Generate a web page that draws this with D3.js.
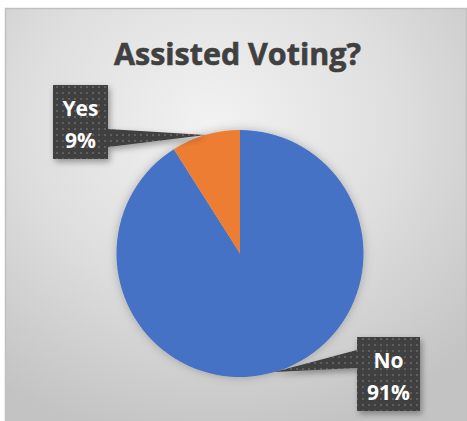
<!DOCTYPE html>
<html>
<head>
<meta charset="utf-8">
<script src="https://cdn.jsdelivr.net/npm/d3@7"></script>
<style>
  body { margin: 0; background: #fff; }
  svg { display: block; }
</style>
</head>
<body>
<div id="chart"></div>
<script>
// data
var categories = ["No", "Yes"];
var values = [91, 9];
var colors = ["#4472c4", "#ed7d31"];
var title = "Assisted Voting?";

var W = 467, H = 421;
var cx = 240, cy = 253.5, R = 123.5;

// label callout boxes (layout only)
var boxes = {
  "Yes": { x: 53, y: 85, w: 55, h: 74, side: "right", b0: 44, b1: 62 },
  "No":  { x: 357, y: 337, w: 63, h: 74, side: "left", b0: 13, b1: 31 }
};

var svg = d3.select("#chart").append("svg")
  .attr("width", W).attr("height", H);

var defs = svg.append("defs");

var bg = defs.append("radialGradient").attr("id", "bg")
  .attr("cx", "45%").attr("cy", "28%").attr("r", "78%");
bg.append("stop").attr("offset", "0%").attr("stop-color", "#f2f2f2");
bg.append("stop").attr("offset", "50%").attr("stop-color", "#dfdfdf");
bg.append("stop").attr("offset", "100%").attr("stop-color", "#c3c3c3");

var sh = defs.append("filter").attr("id", "shadow")
  .attr("x", "-20%").attr("y", "-20%").attr("width", "150%").attr("height", "150%");
sh.append("feDropShadow").attr("dx", 2).attr("dy", 3).attr("stdDeviation", 3)
  .attr("flood-color", "#000").attr("flood-opacity", 0.35);

var pieSh = defs.append("filter").attr("id", "pieshadow")
  .attr("x", "-20%").attr("y", "-20%").attr("width", "140%").attr("height", "140%");
pieSh.append("feDropShadow").attr("dx", 0).attr("dy", 0).attr("stdDeviation", 5)
  .attr("flood-color", "#000").attr("flood-opacity", 0.25);

var pat = defs.append("pattern").attr("id", "dots")
  .attr("width", 6).attr("height", 6).attr("patternUnits", "userSpaceOnUse");
pat.append("rect").attr("width", 6).attr("height", 6).attr("fill", "#404040");
pat.append("rect").attr("x", 2).attr("y", 2).attr("width", 2).attr("height", 2).attr("fill", "#5e5e5e");

// chart area
svg.append("rect").attr("x", 0).attr("y", 0).attr("width", W).attr("height", H).attr("fill", "#ffffff");
svg.append("rect")
  .attr("x", 5.5).attr("y", 8.5).attr("width", W - 6).attr("height", H - 8)
  .attr("fill", "url(#bg)").attr("stroke", "#c0c0c0").attr("stroke-width", 1.5);

// title
var t = svg.append("text")
  .attr("x", 237.5).attr("y", 65)
  .attr("text-anchor", "middle")
  .attr("font-family", "'Open Sans', sans-serif")
  .attr("font-weight", "bold")
  .attr("font-size", 30)
  .attr("fill", "#404040")
  .attr("stroke", "#404040")
  .attr("stroke-width", 0.6)
  .text(title);
var tw = t.node().getComputedTextLength();
t.attr("font-size", 30 * 247 / tw);

// pie
var pie = d3.pie().sort(null).value(function (d) { return d.value; });
var arc = d3.arc().innerRadius(0).outerRadius(R);
var data = categories.map(function (c, i) { return { name: c, value: values[i], color: colors[i] }; });
var arcs = pie(data);
var total = d3.sum(values);

var g = svg.append("g").attr("transform", "translate(" + cx + "," + cy + ")");
g.append("g").attr("filter", "url(#pieshadow)")
  .selectAll("path").data(arcs).enter().append("path")
  .attr("d", arc)
  .attr("fill", function (d) { return d.data.color; });

// callouts
var lab = svg.append("g");
arcs.forEach(function (d) {
  var b = boxes[d.data.name];
  var mid = (d.startAngle + d.endAngle) / 2;
  var tx = cx + Math.sin(mid) * R, ty = cy - Math.cos(mid) * R;
  var sx = b.side === "right" ? b.x + b.w : b.x;
  var path;
  if (b.side === "right") {
    path = [[b.x, b.y], [b.x + b.w, b.y], [sx, b.y + b.b0], [tx, ty], [sx, b.y + b.b1],
      [b.x + b.w, b.y + b.h], [b.x, b.y + b.h]];
  } else {
    path = [[b.x, b.y], [b.x + b.w, b.y], [b.x + b.w, b.y + b.h], [b.x, b.y + b.h],
      [sx, b.y + b.b1], [tx, ty], [sx, b.y + b.b0]];
  }
  lab.append("path")
    .attr("d", d3.line()(path) + "Z")
    .attr("fill", "url(#dots)")
    .attr("filter", "url(#shadow)");
  var txt = lab.append("text")
    .attr("text-anchor", "middle")
    .attr("font-family", "'Open Sans', sans-serif")
    .attr("font-weight", "bold")
    .attr("font-size", 21)
    .attr("fill", "#ffffff");
  txt.append("tspan").attr("x", b.x + b.w / 2).attr("y", b.y + 31).text(d.data.name);
  txt.append("tspan").attr("x", b.x + b.w / 2).attr("y", b.y + 63)
    .text(Math.round(d.data.value / total * 100) + "%");
});
</script>
</body>
</html>
